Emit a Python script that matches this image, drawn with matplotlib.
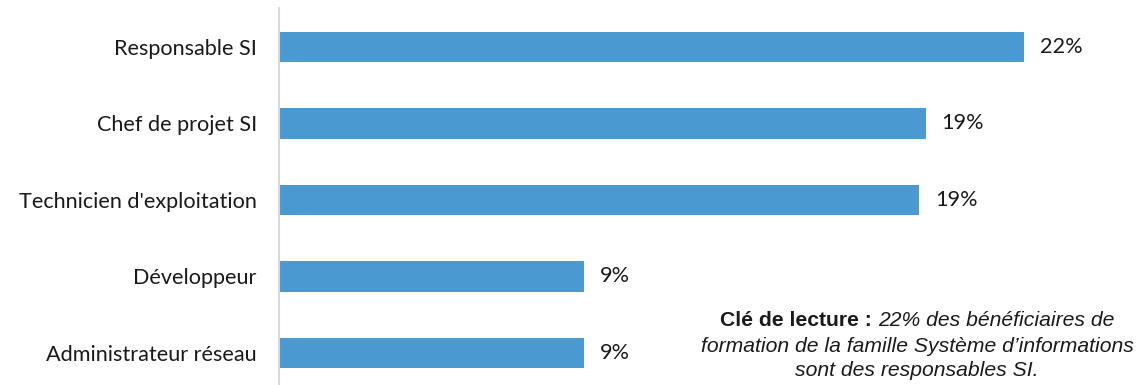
import matplotlib
matplotlib.use("Agg")
import matplotlib.pyplot as plt

categories = ["Responsable SI", "Chef de projet SI", "Technicien d'exploitation",
              "Développeur", "Administrateur réseau"]
values = [22.0, 19.1, 18.9, 9.0, 9.0]
labels = ["22%", "19%", "19%", "9%", "9%"]

note_bold = "Clé de lecture : "
note_lines = ["22% des bénéficiaires de",
              "formation de la famille Système d’informations",
              "sont des responsables SI."]

plt.rcParams["font.family"] = ["Lato", "DejaVu Sans"]

fig = plt.figure(figsize=(11.39, 3.85), dpi=100)
ax = fig.add_axes([279 / 1139, 0, (1139 - 279) / 1139, 377 / 385])

pos = list(range(len(categories)))
ax.barh(pos, values, height=0.4, color="#4A9AD1")
ax.set_ylim(4.42, -0.51)
ax.set_xlim(0, 25.4)
ax.set_yticks(pos)
ax.set_yticklabels(categories, fontsize=15.6, color="#1a1a1a")
ax.tick_params(axis="y", length=0, pad=16)
ax.set_xticks([])
for s in ["top", "right", "bottom"]:
    ax.spines[s].set_visible(False)
ax.spines["left"].set_color("#D9D9D9")
ax.spines["left"].set_linewidth(1.5)

for p, v, lab in zip(pos, values, labels):
    ax.annotate(lab, (v, p), xytext=(11.5, 0), textcoords="offset points",
                va="center", ha="left", fontsize=15.6, color="#1a1a1a")

# note text, lower right
fig.canvas.draw()
r = fig.canvas.get_renderer()
cx = 917 / 1139
ys = [1 - 321 / 385, 1 - 346 / 385, 1 - 371 / 385]
nfont = dict(family="Liberation Sans", fontsize=15.2, color="#1a1a1a")
t1 = fig.text(0, ys[0], note_bold, fontweight="bold", va="center", ha="left", **nfont)
t2 = fig.text(0, ys[0], note_lines[0], style="italic", va="center", ha="left", **nfont)
w1 = t1.get_window_extent(r).width / fig.bbox.width
w2 = t2.get_window_extent(r).width / fig.bbox.width
x0 = cx - (w1 + w2) / 2
t1.set_x(x0)
t2.set_x(x0 + w1)
for y, line in zip(ys[1:], note_lines[1:]):
    fig.text(cx, y, line, style="italic", va="center", ha="center", **nfont)

fig.savefig("out.png", dpi=100)
